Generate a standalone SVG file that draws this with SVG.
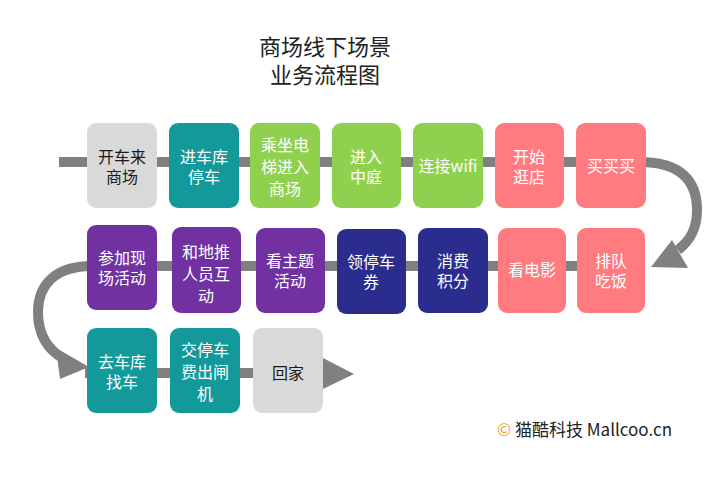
<svg xmlns="http://www.w3.org/2000/svg" width="720" height="487" viewBox="0 0 720 487">
<style>
text{font-family:"Liberation Sans","Noto Sans CJK SC",sans-serif;text-anchor:middle;}
.cjk{font-family:"Noto Sans CJK SC","Noto Sans",sans-serif;}
.t{font-size:16px;fill:#ffffff;}
.d{fill:#1a1a1a;}
.title{font-size:22px;fill:#222222;}
.ln{fill:none;stroke:#808080;stroke-width:10;}
.ah{fill:#808080;}
.gray{fill:#d9d9d9;}
.teal{fill:#14999a;}
.green{fill:#8fd14f;}
.pink{fill:#ff7b7f;}
.purple{fill:#7131a1;}
.navy{fill:#2b2d8e;}
</style>
<rect width="720" height="487" fill="#ffffff"/>
<g id="title">
<text class="title" x="325" y="55">商场线下场景</text>
<text class="title" x="325" y="83">业务流程图</text>
</g>
<g id="connectors">
<path class="ln" d="M59 162 L645 162"/>
<path class="ln" d="M640 162 C680 162 697 180 697 210 C697 228 691 240 678 250"/>
<polygon class="ah" points="651,267 672,240 688,268"/>
<path class="ln" d="M92 266 L600 266"/>
<path class="ln" d="M92 266 C55 266 38 285 38 312 C38 335 48 350 64 359"/>
<polygon class="ah" points="56,348 89,367 60,379"/>
<path class="ln" d="M85 373 L326 373"/>
<polygon class="ah" points="323,358 354,374 323,389"/>
</g>
<g id="n1"><rect class="gray" x="87" y="123" width="70" height="85" rx="9"/><text class="t d" x="122" y="163">开车来</text><text class="t d" x="122" y="183">商场</text></g>
<g id="n2"><rect class="teal" x="169" y="123" width="70" height="85" rx="9"/><text class="t" x="204" y="163">进车库</text><text class="t" x="204" y="183">停车</text></g>
<g id="n3"><rect class="green" x="250" y="123" width="70" height="85" rx="9"/><text class="t" x="285" y="151">乘坐电</text><text class="t" x="285" y="173">梯进入</text><text class="t" x="285" y="195">商场</text></g>
<g id="n4"><rect class="green" x="332" y="123" width="69" height="85" rx="9"/><text class="t" x="366" y="163">进入</text><text class="t" x="366" y="183">中庭</text></g>
<g id="n5"><rect class="green" x="413" y="123" width="70" height="85" rx="9"/><text class="t cjk" x="448" y="172">连接wifi</text></g>
<g id="n6"><rect class="pink" x="495" y="123" width="69" height="85" rx="9"/><text class="t" x="529" y="163">开始</text><text class="t" x="529" y="183">逛店</text></g>
<g id="n7"><rect class="pink" x="576" y="123" width="70" height="85" rx="9"/><text class="t" x="611" y="172">买买买</text></g>
<g id="n8"><rect class="pink" x="577" y="228" width="68" height="85" rx="9"/><text class="t" x="611" y="267">排队</text><text class="t" x="611" y="287">吃饭</text></g>
<g id="n9"><rect class="pink" x="498" y="228" width="68" height="85" rx="9"/><text class="t" x="532" y="276">看电影</text></g>
<g id="n10"><rect class="navy" x="418" y="228" width="70" height="85" rx="9"/><text class="t" x="453" y="267">消费</text><text class="t" x="453" y="287">积分</text></g>
<g id="n11"><rect class="navy" x="337" y="229" width="69" height="85" rx="9"/><text class="t" x="371" y="268">领停车</text><text class="t" x="371" y="288">券</text></g>
<g id="n12"><rect class="purple" x="256" y="228" width="69" height="85" rx="9"/><text class="t" x="290" y="267">看主题</text><text class="t" x="290" y="287">活动</text></g>
<g id="n13"><rect class="purple" x="172" y="227" width="69" height="86" rx="9"/><text class="t" x="206" y="258">和地推</text><text class="t" x="206" y="280">人员互</text><text class="t" x="206" y="302">动</text></g>
<g id="n14"><rect class="purple" x="87" y="225" width="70" height="85" rx="9"/><text class="t" x="122" y="264">参加现</text><text class="t" x="122" y="284">场活动</text></g>
<g id="n15"><rect class="teal" x="87" y="328" width="70" height="85" rx="9"/><text class="t" x="122" y="368">去车库</text><text class="t" x="122" y="388">找车</text></g>
<g id="n16"><rect class="teal" x="170" y="328" width="70" height="85" rx="9"/><text class="t" x="205" y="356">交停车</text><text class="t" x="205" y="378">费出闸</text><text class="t" x="205" y="400">机</text></g>
<g id="n17"><rect class="gray" x="253" y="328" width="70" height="85" rx="9"/><text class="t d" x="288" y="379">回家</text></g>
<g id="footer">
<text class="cjk" x="497" y="436" style="text-anchor:start;font-size:17px;fill:#222222"><tspan fill="#e5a23a">©</tspan> 猫酷科技 Mallcoo.cn</text>
</g>
</svg>
